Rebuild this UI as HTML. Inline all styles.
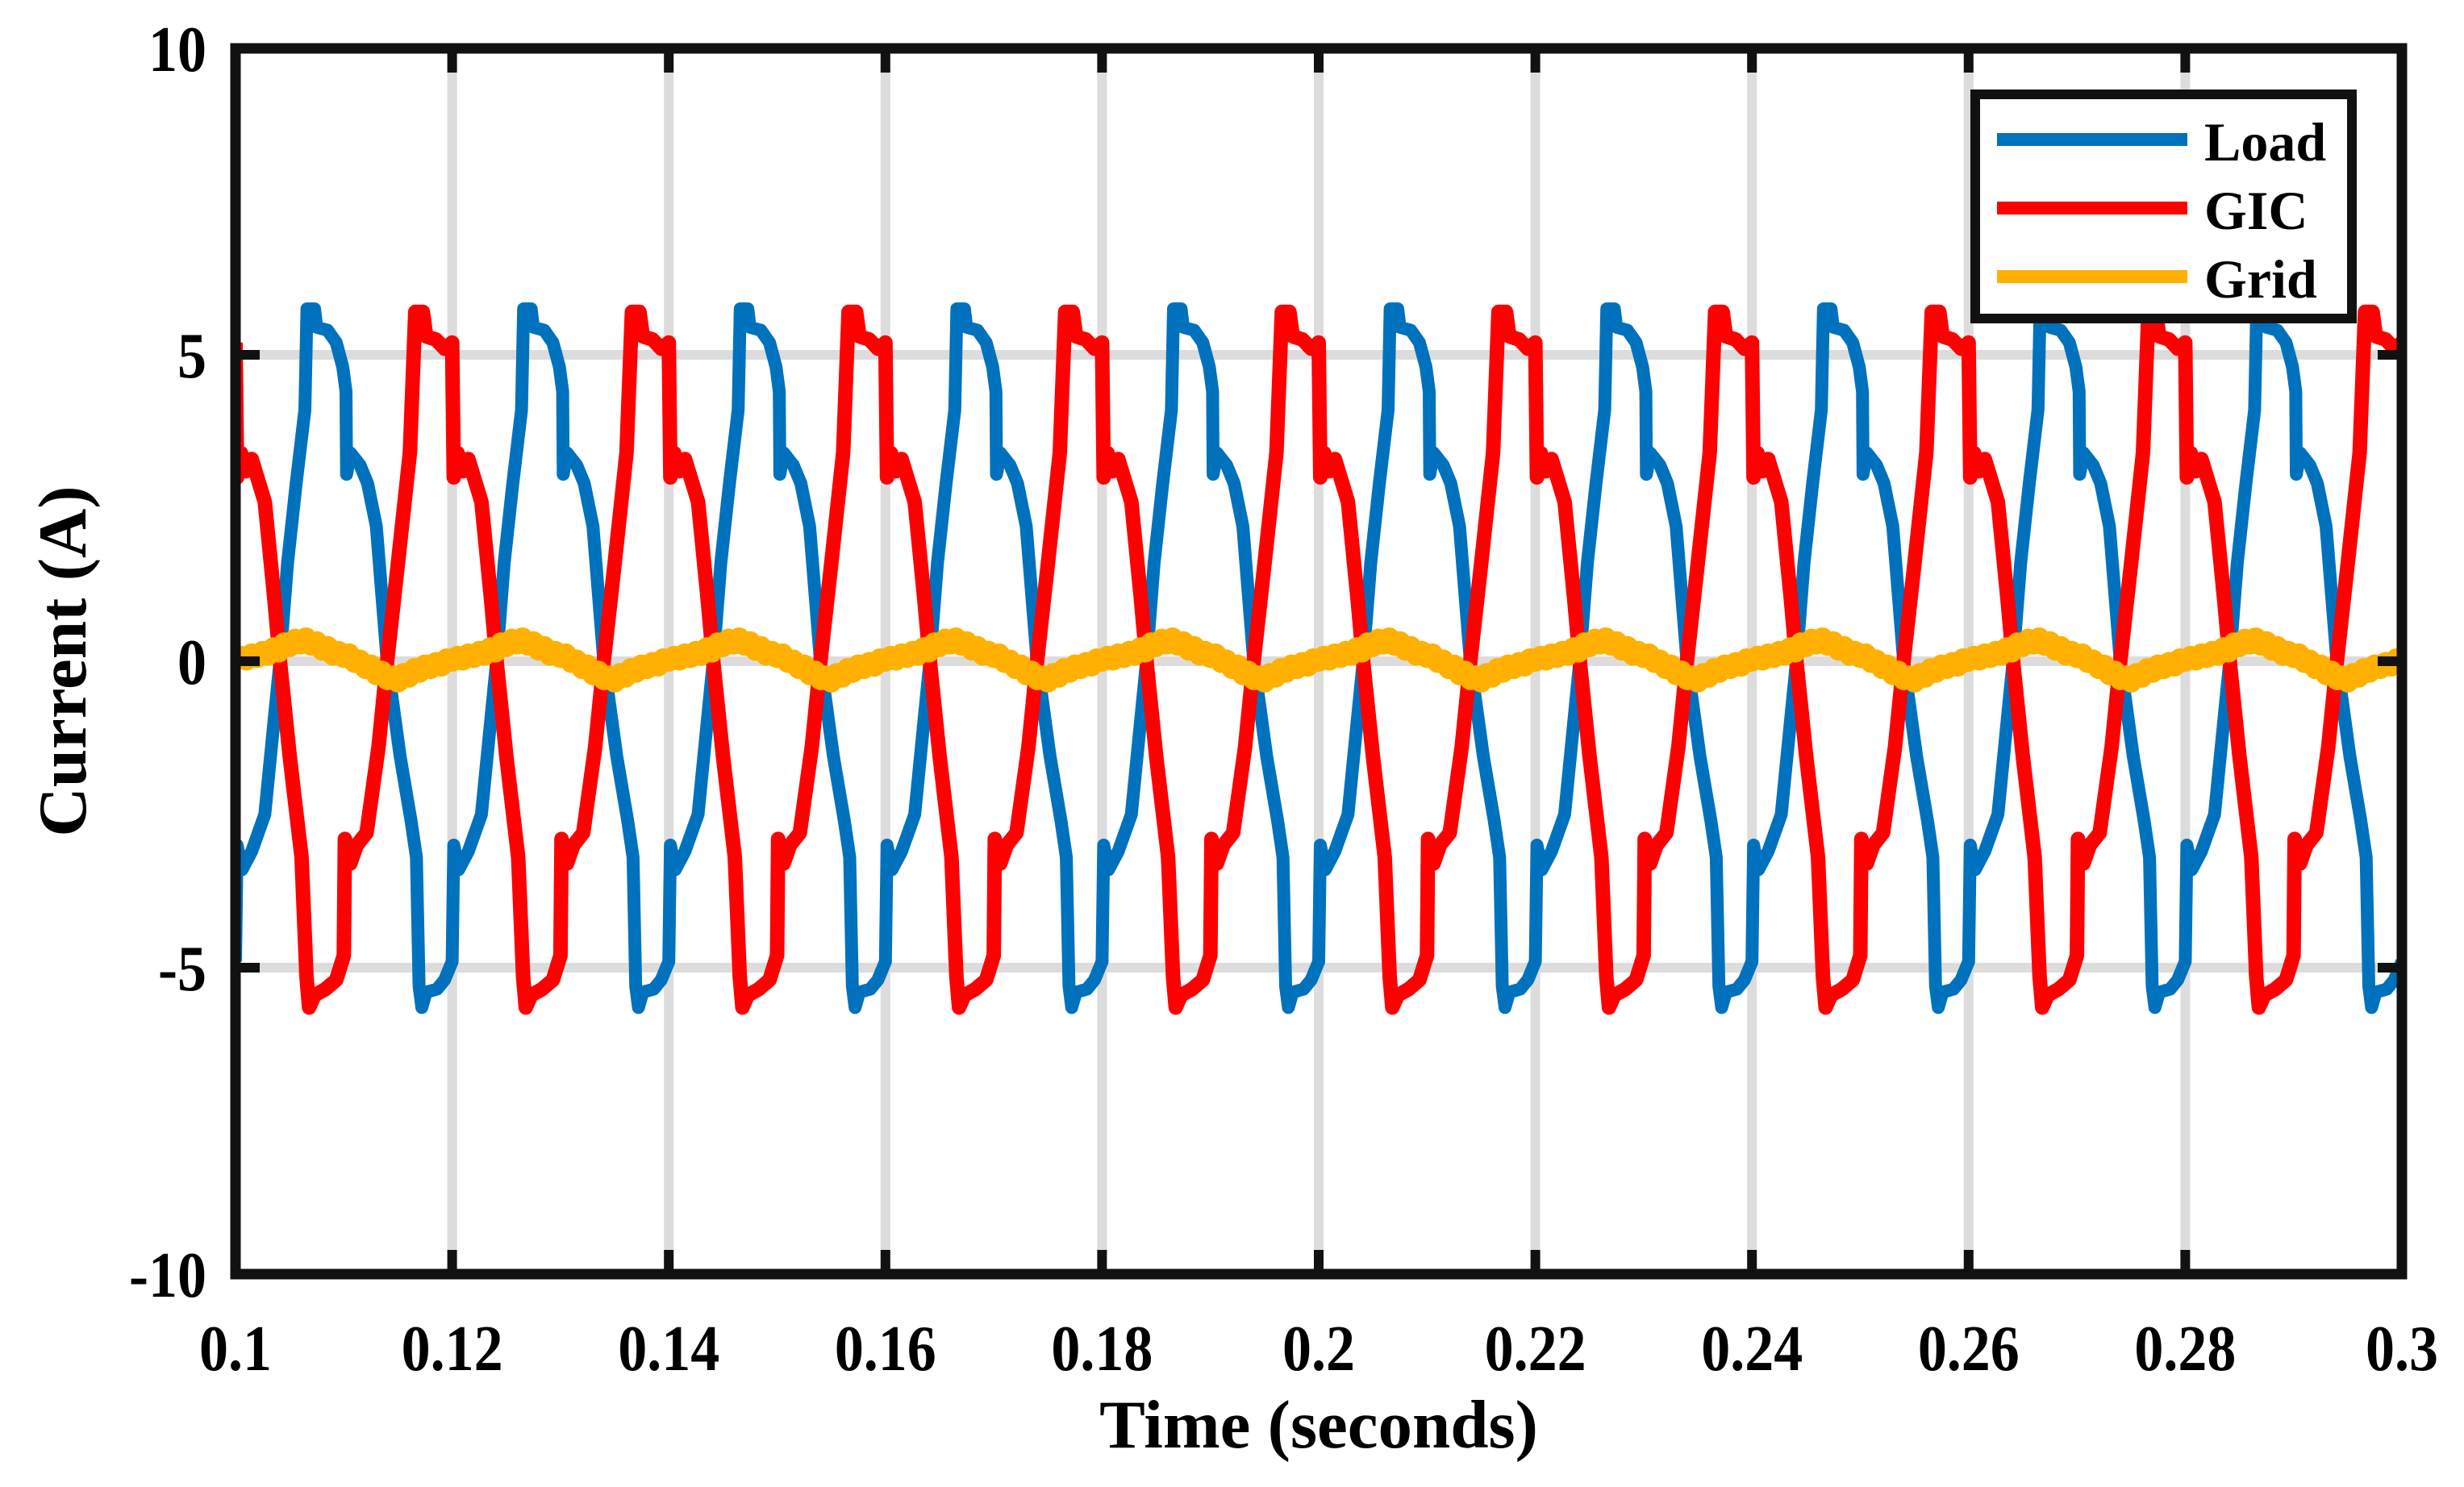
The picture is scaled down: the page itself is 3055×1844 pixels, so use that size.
<!DOCTYPE html>
<html><head><meta charset="utf-8">
<style>
html,body{margin:0;padding:0;background:#fff;}
svg{display:block;}
text{font-family:"Liberation Serif",serif;font-weight:bold;fill:#000;}
</style></head>
<body>
<svg id="chart" width="3055" height="1844" viewBox="0 0 3055 1844" xmlns="http://www.w3.org/2000/svg">
<defs><clipPath id="plotclip"><rect x="292" y="60" width="2686" height="1520"/></clipPath></defs>
<rect x="292" y="60" width="2686" height="1520" fill="#fff"/>
<g id="grid"></g>
<g id="series" clip-path="url(#plotclip)"></g>
<g id="axes"></g>
<g id="legend"></g>
<text x="1635" y="1795" font-size="85" text-anchor="middle">Time (seconds)</text>
<text x="0" y="0" font-size="85" text-anchor="middle" transform="translate(106,820) rotate(-90)">Current (A)</text>
</svg>
<script>
// ---- chart data ----
const xTicks = [0.1,0.12,0.14,0.16,0.18,0.2,0.22,0.24,0.26,0.28,0.3];
const xTickLabels = ["0.1","0.12","0.14","0.16","0.18","0.2","0.22","0.24","0.26","0.28","0.3"];
const yTicks = [-10,-5,0,5,10];
const yTickLabels = ["-10","-5","0","5","10"];
const seriesNames = ["Load","GIC","Grid"];
const cyclePeriod = 0.02;
const cycleCount = 10;
// one cycle of load current: [ms into cycle, amps]
const loadCycle = [[0,-4.9],[0.15,-3.0],[0.6,-3.4],[1.5,-3.1],[2.7,-2.5],[3.6,-0.9],[4.1,0],[4.8,1.6],[5.6,2.9],[6.4,4.1],[6.6,5.75],[7.3,5.75],[7.5,5.45],[8.5,5.4],[9.3,5.2],[9.9,4.8],[10.2,4.4],[10.25,3.05],[10.6,3.4],[11.5,3.2],[12.2,2.9],[13.0,2.2],[14.0,0],[15.2,-1.55],[16.2,-2.6],[16.7,-3.2],[16.95,-5.3],[17.2,-5.65],[17.6,-5.4],[18.6,-5.35],[19.3,-5.2],[20,-4.9]];
// one cycle of GIC current
const gicCycle = [[0,5.2],[0.15,3.0],[0.5,3.4],[1.0,3.1],[1.5,3.3],[2.7,2.6],[3.6,1.0],[4.1,0],[5.0,-1.55],[6.1,-3.2],[6.55,-5.15],[6.8,-5.65],[7.3,-5.45],[8.3,-5.35],[9.3,-5.2],[10.0,-4.8],[10.1,-2.9],[10.6,-3.3],[11.2,-3.0],[12.1,-2.8],[13.2,-1.4],[14.0,0],[15.0,1.6],[16.1,3.4],[16.6,5.7],[17.3,5.7],[17.6,5.3],[18.5,5.25],[19.3,5.1],[20,5.2]];
// one cycle of grid current, 0.5 ms steps
const gridCycle = [0.00,0.08,0.02,0.12,0.06,0.16,0.10,0.22,0.15,0.30,0.24,0.36,0.28,0.38,0.26,0.32,0.18,0.24,0.10,0.16,0.06,0.12,-0.02,0.02,-0.12,-0.06,-0.22,-0.16,-0.30,-0.24,-0.34,-0.20,-0.26,-0.12,-0.18,-0.06,-0.12,-0.02,-0.08,0.04];

const NS = "http://www.w3.org/2000/svg";
const L = 292, R = 2978, T = 60, B = 1580;
const xMin = 0.1, xMax = 0.3, yMin = -10, yMax = 10;
function xs(t){ return L + (t - xMin) / (xMax - xMin) * (R - L); }
function ys(v){ return B - (v - yMin) / (yMax - yMin) * (B - T); }
function mk(tag, attrs, parent){
  const e = document.createElementNS(NS, tag);
  for (const k in attrs) e.setAttribute(k, attrs[k]);
  parent.appendChild(e);
  return e;
}
const grid = document.getElementById('grid');
const axes = document.getElementById('axes');
const series = document.getElementById('series');
const legend = document.getElementById('legend');

xTicks.forEach((t, i) => {
  if (i > 0 && i < xTicks.length - 1) {
    const g = mk('line', {x1: xs(t), x2: xs(t), y1: T, y2: B, stroke: '#dcdcdc', 'stroke-width': 12}, grid);
    
    
  }
  const tk1 = mk('line', {x1: xs(t), x2: xs(t), y1: B, y2: B - 30, stroke: '#111', 'stroke-width': 12}, axes);
  
  
  const tk2 = mk('line', {x1: xs(t), x2: xs(t), y1: T, y2: T + 30, stroke: '#111', 'stroke-width': 12}, axes);
  
  
  const lb = mk('text', {x: 0, y: 0, 'font-size': 80, 'text-anchor': 'middle', transform: 'translate(' + xs(t) + ',1699) scale(0.9,1)'}, axes);
  lb.textContent = xTickLabels[i];
  
  
});
yTicks.forEach((v, i) => {
  if (i > 0 && i < yTicks.length - 1) {
    const g = mk('line', {x1: L, x2: R, y1: ys(v), y2: ys(v), stroke: '#dcdcdc', 'stroke-width': 12}, grid);
    
    
  }
  const tk1 = mk('line', {x1: L, x2: L + 30, y1: ys(v), y2: ys(v), stroke: '#111', 'stroke-width': 12}, axes);
  
  
  const tk2 = mk('line', {x1: R, x2: R - 30, y1: ys(v), y2: ys(v), stroke: '#111', 'stroke-width': 12}, axes);
  
  
  const lb = mk('text', {x: 0, y: 0, 'font-size': 80, 'text-anchor': 'end', transform: 'translate(256,' + (ys(v) + 28) + ') scale(0.9,1)'}, axes);
  lb.textContent = yTickLabels[i];
  
  
});
const frame = mk('rect', {x: L, y: T, width: R - L, height: B - T, fill: 'none', stroke: '#111', 'stroke-width': 13}, axes);



function buildCycleSeries(cycle){
  const pts = [];
  for (let c = 0; c < cycleCount; c++) {
    cycle.forEach(p => {
      if (c > 0 && p[0] === 0) return;
      pts.push([xMin + c * cyclePeriod + p[0] / 1000, p[1]]);
    });
  }
  return pts;
}
function buildGridSeries(){
  const pts = [];
  for (let c = 0; c < cycleCount; c++) {
    gridCycle.forEach((v, k) => pts.push([xMin + c * cyclePeriod + k * 0.0005, v]));
  }
  pts.push([xMax, gridCycle[0]]);
  return pts;
}
function toPath(pts){
  return pts.map((p, i) => (i ? 'L' : 'M') + xs(p[0]).toFixed(1) + ' ' + ys(p[1]).toFixed(1)).join(' ');
}
const loadPts = buildCycleSeries(loadCycle);
const gicPts = buildCycleSeries(gicCycle);
const gridPts = buildGridSeries();

const pLoad = mk('path', {d: toPath(loadPts), fill: 'none', stroke: '#0072BD', 'stroke-width': 16, 'stroke-linejoin': 'round'}, series);


const pGic = mk('path', {d: toPath(gicPts), fill: 'none', stroke: '#FF0000', 'stroke-width': 18, 'stroke-linejoin': 'round'}, series);


const pGrid = mk('path', {d: toPath(gridPts), fill: 'none', stroke: '#FFB000', 'stroke-width': 26, 'stroke-linejoin': 'round'}, series);



// legend
const lbox = mk('rect', {x: 2449, y: 117, width: 467, height: 278, fill: '#fff', stroke: '#111', 'stroke-width': 12}, legend);


const legColors = ['#0072BD', '#FF0000', '#FFB000'];
const legY = [173, 258, 343];
seriesNames.forEach((n, i) => {
  const ln = mk('line', {x1: 2476, x2: 2712, y1: legY[i], y2: legY[i], stroke: legColors[i], 'stroke-width': 16}, legend);
  
  
  const tx = mk('text', {x: 2733, y: legY[i] + 26, 'font-size': 68}, legend);
  tx.textContent = n;
  
  
});
</script>
</body></html>
